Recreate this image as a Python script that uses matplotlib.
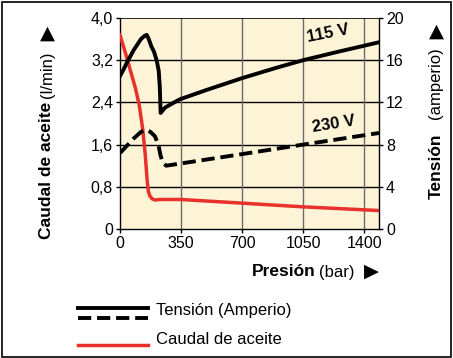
import matplotlib
matplotlib.use("Agg")
import matplotlib.pyplot as plt
from matplotlib.lines import Line2D
from matplotlib.patches import Rectangle

plt.rcParams['font.family'] = ['Liberation Sans Narrow', 'Liberation Sans', 'DejaVu Sans']

# Data
p_115 = [0, 20, 40, 60, 80, 100, 120, 140, 153, 165, 180, 195, 210, 222, 228, 233,
         258, 300, 344, 500, 700, 900, 1050, 1250, 1485]
a_115 = [14.5, 15.1, 15.8, 16.4, 17.0, 17.5, 18.0, 18.3, 18.4, 18.0, 17.3, 16.8, 16.0, 15.0, 13.5, 11.0,
         11.5, 11.9, 12.3, 13.2, 14.3, 15.3, 16.0, 16.8, 17.7]
p_230 = [0, 40, 80, 120, 150, 175, 200, 220, 232, 245, 265, 344, 700, 1050, 1485]
a_230 = [7.2, 7.9, 8.6, 9.2, 9.4, 9.2, 8.8, 8.0, 7.0, 6.3, 6.0, 6.2, 7.1, 8.0, 9.1]
p_oil = [0, 30, 60, 90, 110, 130, 145, 155, 162, 172, 185, 200, 230, 344, 500, 700, 1050, 1485]
q_oil = [3.68, 3.35, 3.0, 2.65, 2.35, 1.9, 1.4, 0.95, 0.72, 0.62, 0.57, 0.55, 0.56, 0.56, 0.53, 0.49, 0.42, 0.35]
xticks = [0, 350, 700, 1050, 1400]
yl_ticks = [0, 0.8, 1.6, 2.4, 3.2, 4.0]
yl_labels = ['0', '0,8', '1,6', '2,4', '3,2', '4,0']
yr_ticks = [0, 4, 8, 12, 16, 20]

W, H = 453, 358
fig = plt.figure(figsize=(W/100, H/100), dpi=100)
fig.patches.append(Rectangle((2/W, 1/H), (W-4)/W, (H-3)/H, transform=fig.transFigure,
                             fill=False, edgecolor='black', linewidth=1.2))

def fx(px): return px / W
def fy(py): return 1 - py / H

ax = fig.add_axes([fx(120), fy(229), fx(379) - fx(120), fy(18) - fy(229)])
ax.set_facecolor('#FDF3D6')
ax.set_xlim(0, 1485)
ax.set_ylim(0, 4.0)
ax.set_xticks(xticks)
ax.set_yticks(yl_ticks)
ax.set_yticklabels(yl_labels)
ax.tick_params(labelsize=11.5, length=3, width=1, direction='out', pad=2)
for y in yl_ticks[1:-1]:
    ax.axhline(y, color='black', lw=1.0, zorder=1)
for x in xticks[1:]:
    ax.axvline(x, color='#6b6b6b', lw=1.0, zorder=1)
for s in ['top', 'right']:
    ax.spines[s].set_visible(False)
ax.spines['left'].set_linewidth(1)
ax.spines['bottom'].set_linewidth(1)
ax.axhline(4.0, color='black', lw=1.2, zorder=1)

ax2 = ax.twinx()
ax2.set_ylim(0, 20)
ax2.set_yticks(yr_ticks)
ax2.tick_params(labelsize=11.5, length=3, width=1, pad=2)
for s in ['top', 'left', 'bottom']:
    ax2.spines[s].set_visible(False)
ax2.spines['right'].set_linewidth(1)

ax.plot(p_oil, q_oil, color='#E8312B', lw=2.5, zorder=3, solid_joinstyle='round')
ax2.plot(p_115, a_115, color='black', lw=2.8, zorder=4, solid_joinstyle='round')
ax2.plot(p_230, a_230, color='black', lw=2.8, ls=(0, (3.4, 1.5)), zorder=4)

ax2.text(1195, 18.5, '115 V', fontsize=12, fontweight='bold', rotation=11, ha='center', va='center')
ax2.text(1225, 9.9, '230 V', fontsize=12, fontweight='bold', rotation=9, ha='center', va='center')

# Left ylabel
fig.text(fx(47), fy(170), 'Caudal de aceite', rotation=90, fontsize=12.5, fontweight='bold', ha='center', va='center')
fig.text(fx(47), fy(75), '(l/min)', rotation=90, fontsize=12, ha='center', va='center')
fig.text(fx(47), fy(33), '\u25B2', rotation=0, fontsize=14, ha='center', va='center', family='DejaVu Sans')

# Right ylabel
fig.text(fx(436), fy(166), 'Tensión', rotation=90, fontsize=12.5, fontweight='bold', ha='center', va='center')
fig.text(fx(436), fy(83), '(amperio)', rotation=90, fontsize=12, ha='center', va='center')
fig.text(fx(436), fy(31), '\u25B2', rotation=0, fontsize=14, ha='center', va='center', family='DejaVu Sans')

# x label
fig.text(fx(284), fy(272), 'Presión', fontsize=12.5, fontweight='bold', ha='center', va='center')
fig.text(fx(337), fy(272), '(bar)', fontsize=12, ha='center', va='center')
fig.text(fx(371), fy(271), '\u25B6', fontsize=14, ha='center', va='center', family='DejaVu Sans')

# Legend
fig.add_artist(Line2D([fx(78), fx(148)], [fy(308), fy(308)], color='black', lw=2.8, transform=fig.transFigure))
fig.add_artist(Line2D([fx(78), fx(148)], [fy(318), fy(318)], color='black', lw=2.8, ls=(0, (3.4, 1.5)), transform=fig.transFigure))
fig.add_artist(Line2D([fx(78), fx(148)], [fy(345), fy(345)], color='#E8312B', lw=2.5, transform=fig.transFigure))
fig.text(fx(156), fy(311), 'Tensión (Amperio)', fontsize=12, ha='left', va='center')
fig.text(fx(156), fy(339), 'Caudal de aceite', fontsize=12, ha='left', va='center')

fig.savefig('out.png', dpi=100)
